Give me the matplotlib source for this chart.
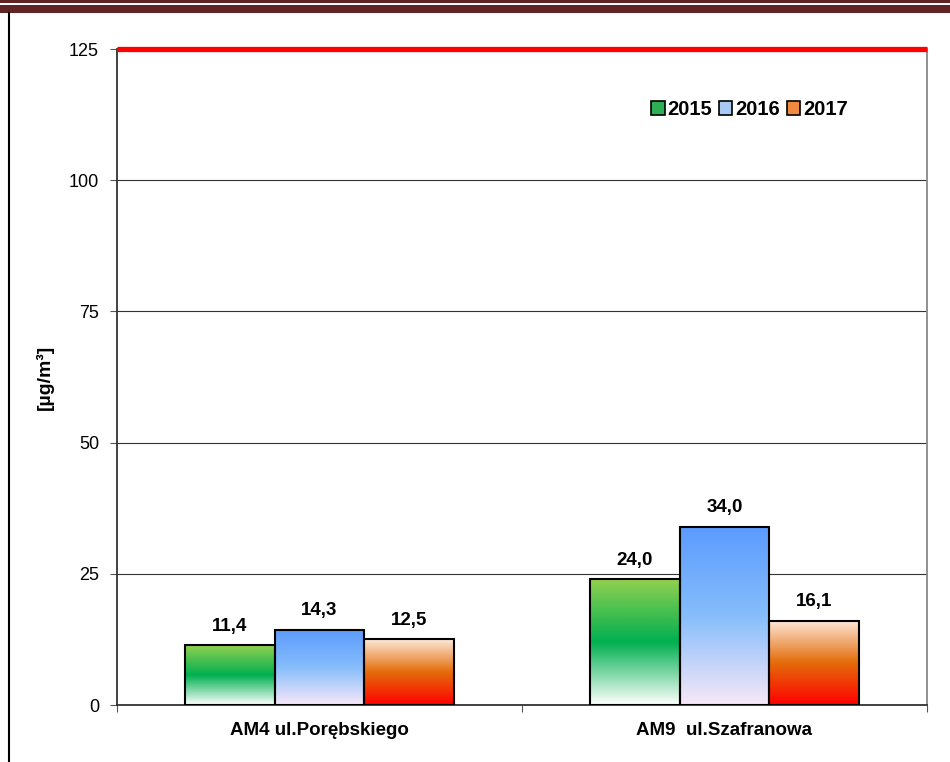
import numpy as np
import matplotlib
matplotlib.use("Agg")
from matplotlib import pyplot as plt
from matplotlib.colors import LinearSegmentedColormap
from matplotlib.patches import Rectangle, Patch
from matplotlib.lines import Line2D

plt.rcParams['font.family'] = ['Liberation Sans', 'DejaVu Sans']

# stations and yearly averages
stations = ['AM4 ul.Porębskiego', 'AM9  ul.Szafranowa']
years = ['2015', '2016', '2017']
values_2015 = [11.4, 24.0]
values_2016 = [14.3, 34.0]
values_2017 = [12.5, 16.1]
limit_value = 125

series = [values_2015, values_2016, values_2017]

# vertical gradients, bottom -> top
gradients = [
    ['#ffffff', '#00b050', '#92d050'],
    ['#f8e8f8', '#86bdfb', '#5b9bff'],
    ['#ff0000', '#e46c0a', '#fde9d9'],
]
legend_colors = ['#2eae55', '#a9c9f5', '#f08a40']

fig = plt.figure(figsize=(9.5, 7.62), dpi=100)
ax = fig.add_axes([117 / 950, 1 - 705 / 762, 810 / 950, 656 / 762])

x = np.arange(len(stations))
width = 0.222

for i, vals in enumerate(series):
    cmap = LinearSegmentedColormap.from_list('g%d' % i, gradients[i])
    bars = ax.bar(x + (i - 1) * width, vals, width, facecolor='none',
                  edgecolor='black', linewidth=1.5, zorder=4)
    for b, v in zip(bars, vals):
        x0, w, h = b.get_x(), b.get_width(), b.get_height()
        grad = np.linspace(0, 1, 256).reshape(-1, 1)
        ax.imshow(grad, cmap=cmap, origin='lower', aspect='auto',
                  extent=[x0, x0 + w, 0, h], zorder=3, interpolation='bilinear')
        ax.text(x0 + w / 2, h + 2.0, ('%.1f' % v).replace('.', ','),
                ha='center', va='bottom', fontsize=13.5, fontweight='bold', zorder=5)

# limit line
ax.axhline(limit_value, color='#ff0000', linewidth=3.8, zorder=6, clip_on=False,
           solid_capstyle='butt')

ax.set_xlim(-0.5, 1.5)
ax.set_ylim(0, 125)
ax.set_yticks([0, 25, 50, 75, 100, 125])
ax.yaxis.grid(True, color='#333333', linewidth=0.8)
ax.set_axisbelow(True)

# category labels between boundary ticks
ax.set_xticks([-0.5, 0.5, 1.5])
ax.set_xticklabels([])
ax.set_xticks(x, minor=True)
ax.set_xticklabels(stations, minor=True, fontsize=13.5, fontweight='bold')
ax.tick_params(axis='x', which='minor', length=0, pad=12)
ax.tick_params(axis='x', which='major', length=5, color='#555555')
ax.tick_params(axis='y', labelsize=13, length=5, color='#555555', pad=8)

for s in ['left', 'bottom']:
    ax.spines[s].set_color('#333333')
    ax.spines[s].set_linewidth(1.3)
ax.spines['right'].set_color('#888888')
ax.spines['right'].set_linewidth(1.3)
ax.spines['top'].set_visible(False)

ax.set_ylabel('[µg/m³]', fontsize=14, fontweight='bold', labelpad=11)

handles = [Patch(facecolor=c, edgecolor='black', linewidth=1.2) for c in legend_colors]
ax.legend(handles, years, loc='upper right', bbox_to_anchor=(0.925, 0.95), ncol=3,
          frameon=False, prop={'weight': 'bold', 'size': 14.5},
          handlelength=0.65, handleheight=0.65, handletextpad=0.15,
          columnspacing=0.35)

# page header band and left margin line
fig.patches.append(Rectangle((0, 1 - 3 / 762), 1, 3 / 762, transform=fig.transFigure,
                             facecolor='#632523', edgecolor='none'))
fig.patches.append(Rectangle((0, 1 - 13 / 762), 1, 8 / 762, transform=fig.transFigure,
                             facecolor='#632523', edgecolor='none'))
fig.add_artist(Line2D([8.5 / 950, 8.5 / 950], [0, 1 - 13 / 762], transform=fig.transFigure,
                      color='black', linewidth=1.5))

fig.savefig('out.png', dpi=100)
